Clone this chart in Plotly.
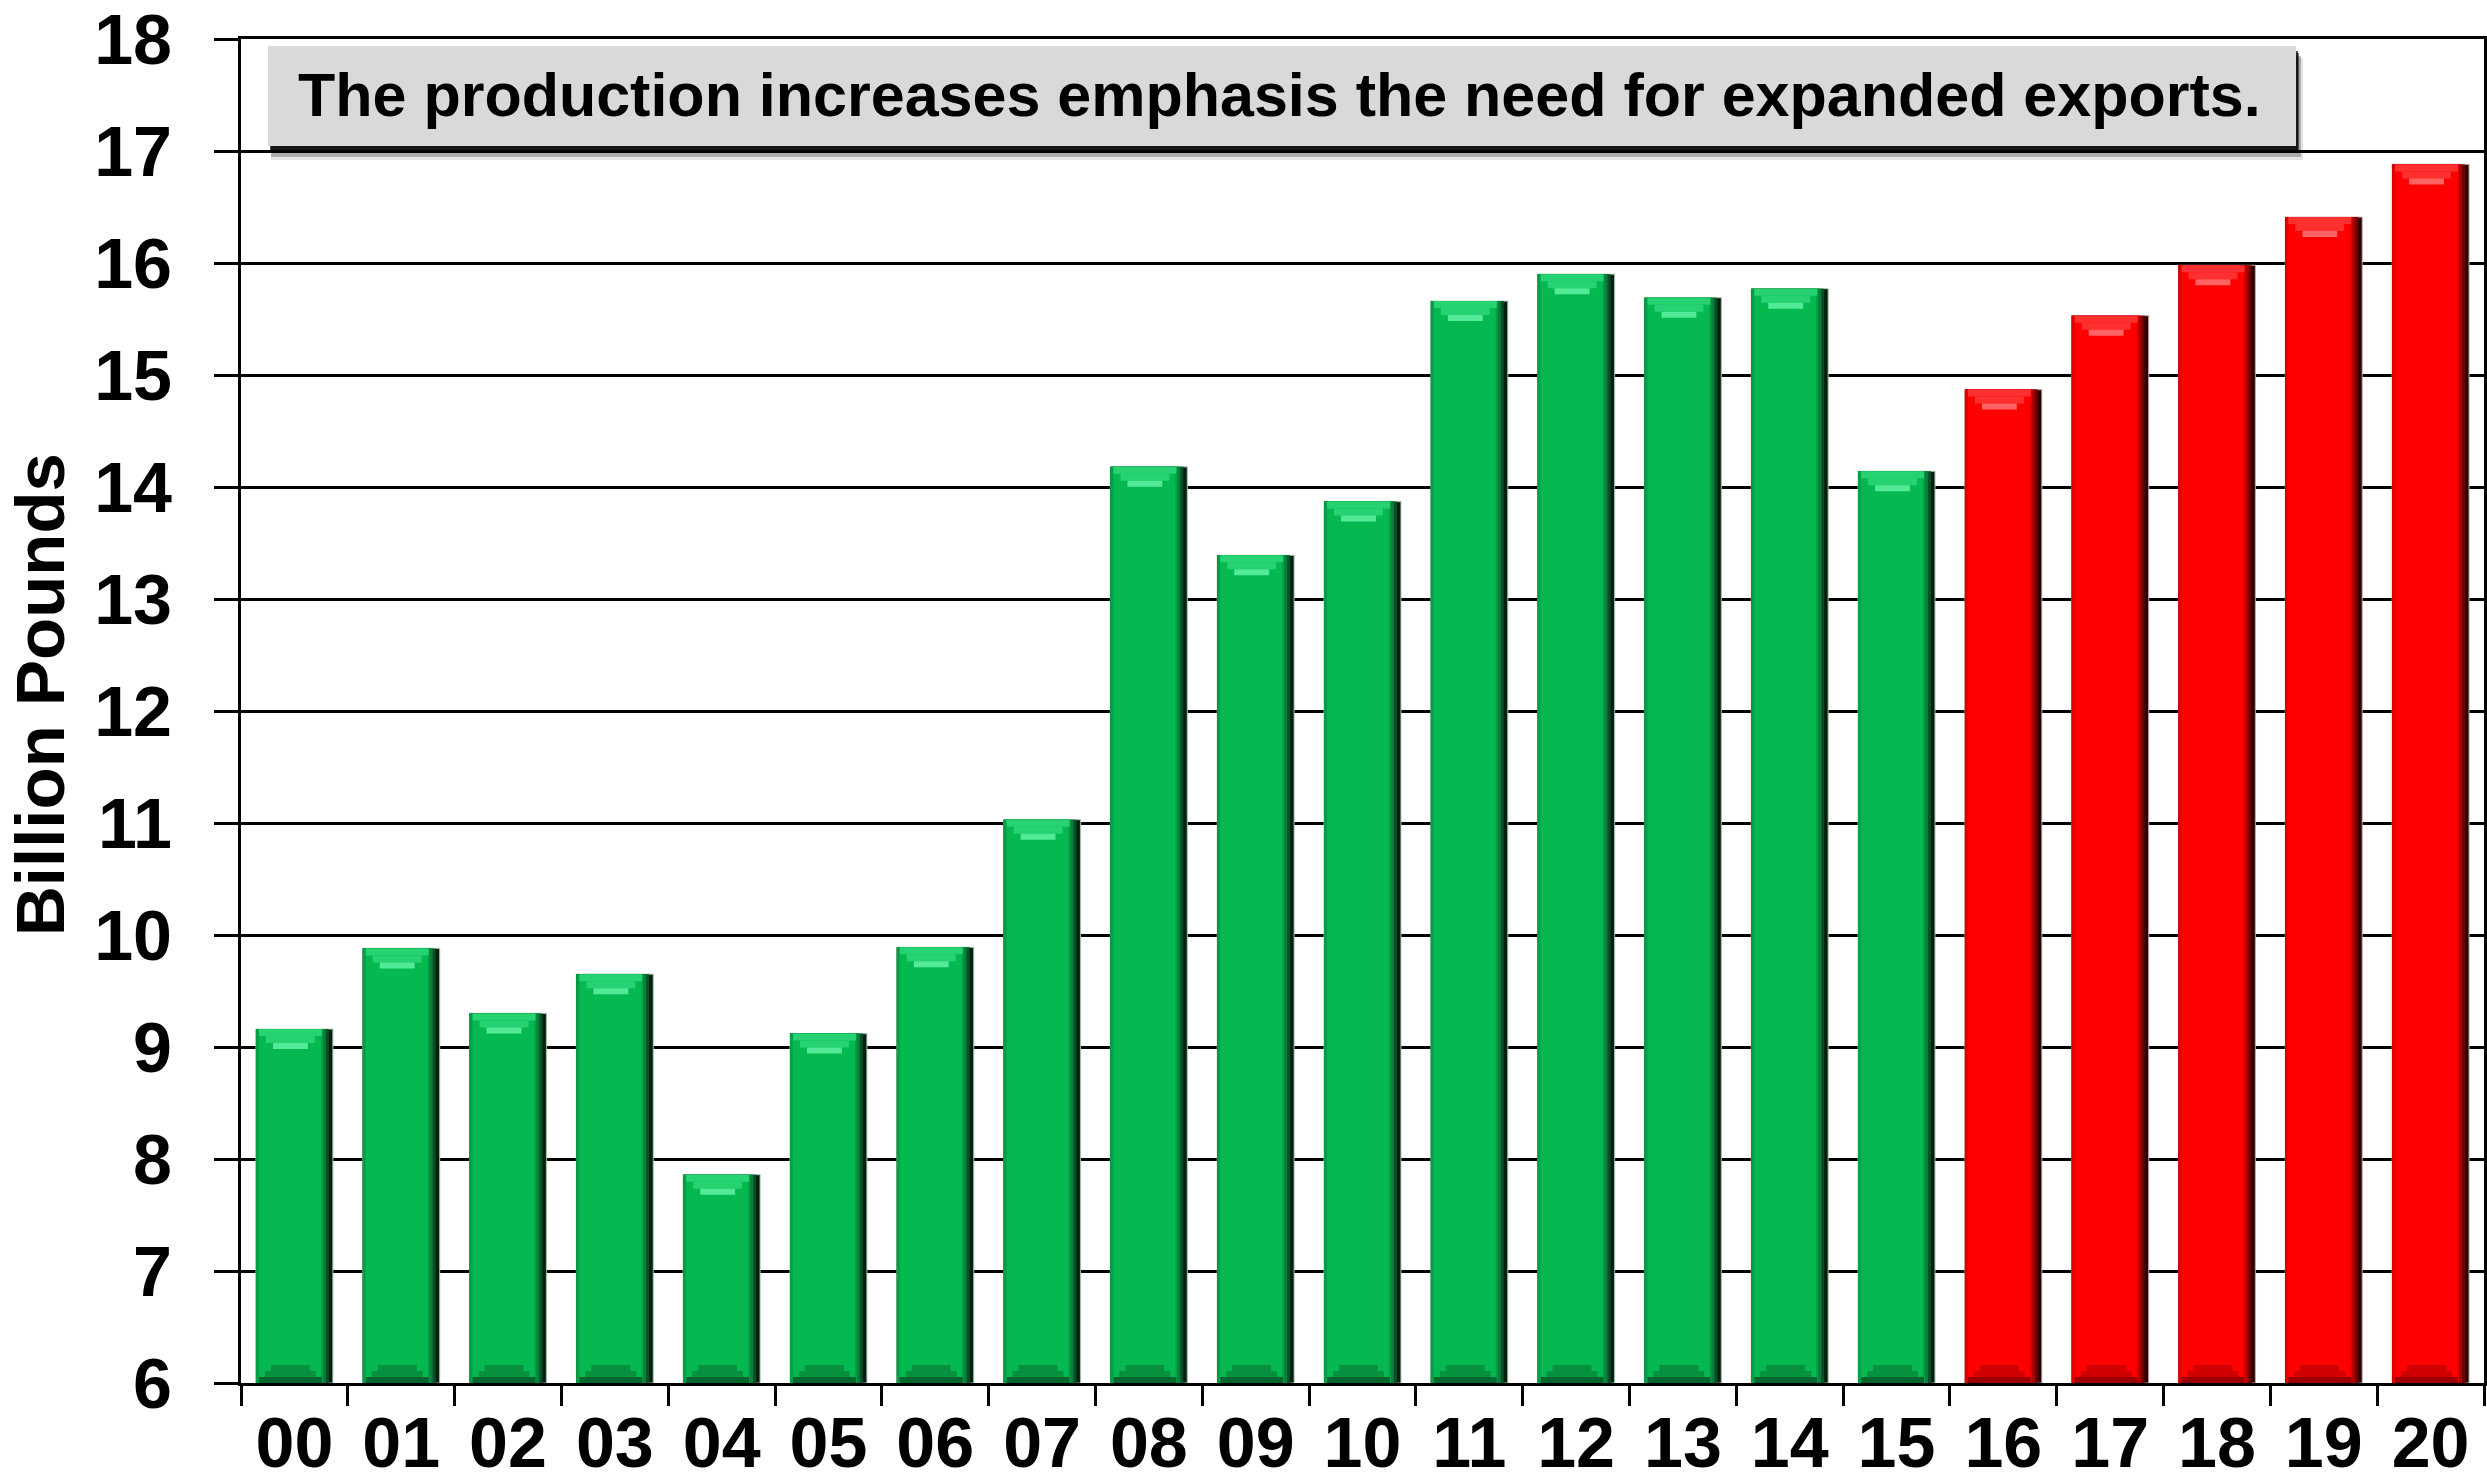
import plotly.graph_objects as go

# ---- data -------------------------------------------------------------
years_actual = ["00", "01", "02", "03", "04", "05", "06", "07",
                "08", "09", "10", "11", "12", "13", "14", "15"]
output_actual = [9.16, 9.88, 9.30, 9.65, 7.86, 9.12, 9.89, 11.03,
                 14.18, 13.39, 13.87, 15.66, 15.90, 15.69, 15.77, 14.14]

years_projected = ["16", "17", "18", "19", "20"]
output_projected = [14.87, 15.53, 15.98, 16.41, 16.88]

y_ticks = list(range(6, 19))
y_title = "Billion Pounds"
note = "The production increases emphasis the need for expanded exports."

# ---- layout geometry ---------------------------------------------------
W, H = 2487, 1483
M = dict(l=241, r=3, t=39, b=100)
Y_MIN, Y_MAX = 6, 18
plot_w = W - M["l"] - M["r"]
plot_h = H - M["t"] - M["b"]

years = years_actual + years_projected
values = output_actual + output_projected
groups = ["actual"] * len(years_actual) + ["projected"] * len(years_projected)
n = len(years)

ux = n / plot_w                    # category units per pixel
uy = (Y_MAX - Y_MIN) / plot_h      # value units per pixel

BAR_W = 0.72
LEFT = -BAR_W / 2

palettes = {
    "actual": dict(edge0="#05200f", edge1="#0a4f27", edge2="#087f3a", edge3="#05a046",
                   face="#06b850", top="#26d271", top_hi="#52ea96", bottom="#07913f",
                   bottom_dk="#05662d", outline="rgba(170,200,180,0.8)"),
    "projected": dict(edge0="#2a0000", edge1="#6a0000", edge2="#aa0000", edge3="#df0000",
                      face="#fe0000", top="#ff3030", top_hi="#ff6464", bottom="#d00000",
                      bottom_dk="#9c0000", outline="rgba(210,170,170,0.8)"),
}


def colors(key):
    return [palettes[g][key] for g in groups]


def strip(x0_px, width_px_cut, base, length, key, line=None):
    return go.Bar(
        x=years, y=length, base=base,
        offset=LEFT + x0_px * ux, width=BAR_W - width_px_cut * ux,
        marker=dict(color=colors(key),
                    line=line if line else dict(width=0)),
        hoverinfo="skip", showlegend=False,
    )


fig = go.Figure()

full_len = [v - Y_MIN for v in values]
base0 = [Y_MIN] * n

# vertical shading: dark right edge fading into the bar face
fig.add_trace(strip(0, 0, base0, full_len, "edge0",
                    line=dict(width=1.2, color=colors("outline"))))
fig.add_trace(strip(0, 4, base0, full_len, "edge1"))
fig.add_trace(strip(0, 7, base0, full_len, "edge2"))
fig.add_trace(strip(0, 10, base0, full_len, "edge3"))
fig.add_trace(strip(3, 15, base0, full_len, "face"))

# top bevel (stepped trapezoid, wide at the top edge)
inner_cut = 14
step = 7
for i, key in enumerate(["top", "top", "top_hi"]):
    h_px = step if i < 2 else 6
    top_off = step * i
    fig.add_trace(strip(3 + step * i, inner_cut + 2 * step * i,
                        [v - (top_off + h_px) * uy for v in values],
                        [h_px * uy] * n, key))

# bottom bevel (stepped trapezoid, wide at the base)
for i, key in enumerate(["bottom_dk", "bottom", "bottom"]):
    h_px = 6
    fig.add_trace(strip(3 + 6 * i, inner_cut + 12 * i,
                        [Y_MIN + 6 * i * uy] * n,
                        [h_px * uy] * n, key))


# ---- callout box with drop shadow -------------------------------------
def pxx(px):
    return (px - M["l"]) / plot_w


def pxy(py):
    return (H - M["b"] - py) / plot_h


box = (268, 46, 2296, 146)
shapes = []
for dx, dy, grow, op in [(5, 12, 2, 0.10), (4, 10, 1, 0.25), (3, 7, 0, 0.55), (2, 5, 0, 0.7)]:
    shapes.append(dict(type="rect", xref="paper", yref="paper", layer="above",
                       x0=pxx(box[0] + dx - grow), x1=pxx(box[2] + dx + grow),
                       y0=pxy(box[3] + dy + grow), y1=pxy(box[1] + dy),
                       fillcolor="black", opacity=op, line=dict(width=0)))
shapes.append(dict(type="rect", xref="paper", yref="paper", layer="above",
                   x0=pxx(box[0]), x1=pxx(box[2]), y0=pxy(box[3]), y1=pxy(box[1]),
                   fillcolor="#d9d9d9", line=dict(width=0)))

annotations = [
    dict(text=f"<b>{note}</b>", xref="paper", yref="paper",
         x=pxx((box[0] + box[2]) / 2 - 3), y=pxy((box[1] + box[3]) / 2 - 1),
         xanchor="center", yanchor="middle", showarrow=False,
         font=dict(family="Liberation Sans, Arial, sans-serif", size=61, color="black")),
    dict(text=f"<b>{y_title}</b>", xref="paper", yref="paper",
         x=pxx(40), y=pxy(695), textangle=-90,
         xanchor="center", yanchor="middle", showarrow=False,
         font=dict(family="Liberation Sans, Arial, sans-serif", size=69, color="black")),
]

y_tick_font = dict(family="Liberation Sans, Arial, sans-serif", size=70,
                   color="black", weight="bold")
x_tick_font = dict(family="Liberation Sans, Arial, sans-serif", size=70,
                   color="black", weight="bold")

fig.update_layout(
    width=W, height=H,
    margin=dict(l=M["l"], r=M["r"], t=M["t"], b=M["b"], pad=0, autoexpand=False),
    paper_bgcolor="white", plot_bgcolor="white",
    barmode="overlay",
    shapes=shapes, annotations=annotations,
    xaxis=dict(type="category", categoryorder="array", categoryarray=years,
               range=[-0.5, n - 0.5], automargin=False,
               showline=True, linecolor="black", linewidth=3, mirror=True,
               ticks="outside", tickson="boundaries", ticklen=20, tickwidth=3,
               tickcolor="black", showgrid=False, tickfont=x_tick_font,
               ticklabelstandoff=-3, ticklabeloverflow="allow"),
    yaxis=dict(range=[Y_MIN, Y_MAX], tickvals=y_ticks, automargin=False,
               showline=True, linecolor="black", linewidth=3, mirror=True,
               ticks="outside", ticklen=24, tickwidth=3, tickcolor="black",
               showgrid=True, gridcolor="black", gridwidth=3, zeroline=False,
               tickfont=y_tick_font, ticklabelstandoff=28, ticklabeloverflow="allow"),
)

fig.write_html("out.html")
